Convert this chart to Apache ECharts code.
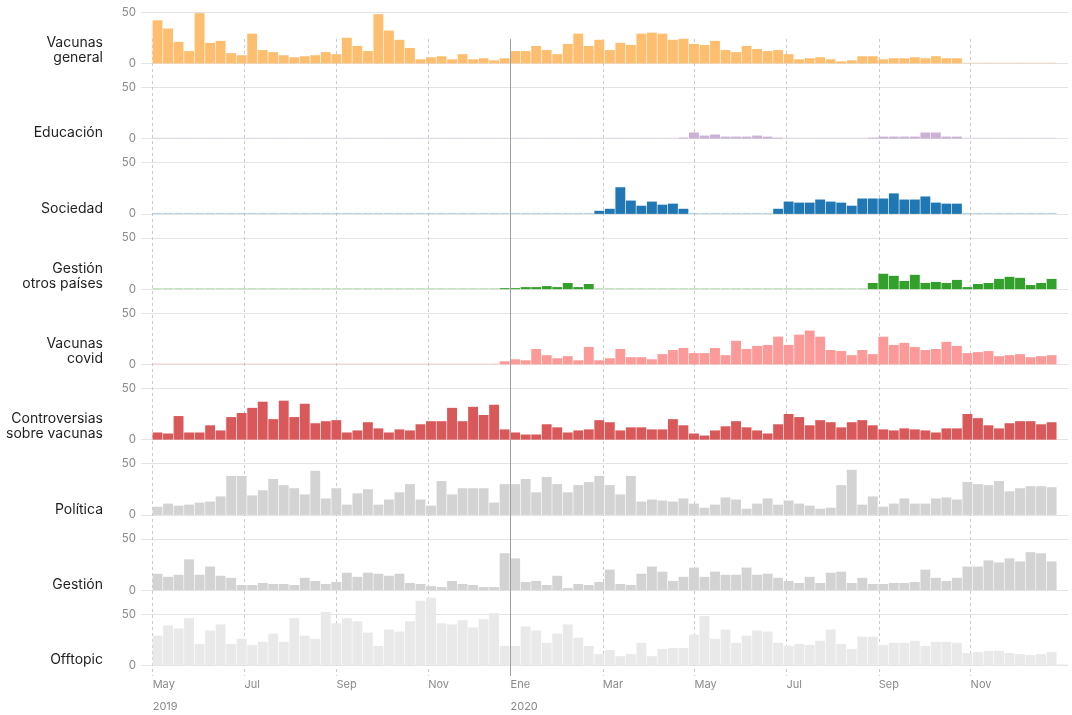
<!DOCTYPE html>
<html>
<head>
<meta charset="utf-8">
<script src="https://cdn.jsdelivr.net/npm/echarts@6/dist/echarts.min.js"></script>
<style>
html,body{margin:0;padding:0;background:#ffffff;}
#chart{width:1072px;height:715px;}
</style>
</head>
<body>
<div id="chart"></div>
<script>
// ---------- DATA ----------
const categories = ['Vacunas\ngeneral', 'Educación', 'Sociedad', 'Gestión\notros países', 'Vacunas\ncovid',
  'Controversias\nsobre vacunas', 'Política', 'Gestión', 'Offtopic'];

// weekly counts, week 0 = first week of May 2019 (null = no bar)
const vacunasGeneral = [42,34,21,12,49,20,22,10,8,29,13,11,8,6,7,8,11,9,25,17,12,48,32,23,15,4,6,7,4,9,4,5,3,5,12,12,17,
  13,9,19,29,17,23,13,20,18,29,30,29,23,24,19,18,22,13,11,17,14,12,13,9,4,5,6,4,2,3,7,7,4,5,5,6,5,7,5,5,
  0,0,0,0,0,0,0,0,0];
const educacion = [0,0,0,0,0,0,0,0,0,0,0,0,0,0,0,0,0,0,0,0,0,0,0,0,0,0,0,0,0,0,0,0,0,0,0,0,0,0,0,0,0,0,0,0,0,0,0,0,0,0,
  1,6,3,4,2,2,2,3,2,1,
  0,0,0,0,0,0,0,0,
  1,2,2,2,2,6,6,2,2,
  0,0,0,0,0,0,0,0,0];
const sociedad = [0,0,0,0,0,0,0,0,0,0,0,0,0,0,0,0,0,0,0,0,0,0,0,0,0,0,0,0,0,0,0,0,0,0,0,0,0,0,0,0,0,0,
  3,5,26,13,8,12,9,10,5,
  0,0,0,0,0,0,0,0,
  5,12,11,11,14,12,11,8,15,15,15,20,14,14,17,11,10,10,
  0,0,0,0,0,0,0,0,0];
const gestionOtrosPaises = [0,0,0,0,0,0,0,0,0,0,0,0,0,0,0,0,0,0,0,0,0,0,0,0,0,0,0,0,0,0,0,0,0,
  1,1,2,2,3,2,6,2,5,
  0,0,0,0,0,0,0,0,0,0,0,0,0,0,0,0,0,0,0,0,0,0,0,0,0,0,
  6,15,13,8,14,6,7,6,9,2,5,6,10,12,11,4,6,10];
const vacunasCovid = [0,0,0,0,0,0,0,0,0,0,0,0,0,0,0,0,0,0,0,0,0,0,0,0,0,0,0,0,0,0,0,0,0,
  3,5,4,15,9,6,8,4,17,4,6,15,7,7,5,10,14,16,11,11,16,9,23,15,18,19,27,19,29,33,27,14,13,9,14,10,
  27,19,21,17,14,15,22,18,11,12,13,8,9,10,7,8,9];
const controversias = [7,6,23,7,7,14,9,22,26,31,37,20,38,22,35,16,18,19,7,9,17,11,7,10,9,15,18,18,31,18,32,24,34,10,7,5,5,
  15,12,7,9,10,19,17,9,12,12,10,10,20,14,6,4,9,13,18,12,9,6,15,25,22,14,19,17,12,17,19,14,10,9,11,10,9,7,11,11,
  25,21,14,11,16,18,18,15,17];
const politica = [8,11,9,10,12,13,18,38,38,19,24,35,29,26,20,43,16,26,10,21,25,10,15,22,30,15,9,33,20,26,26,26,12,30,30,35,22,
  37,30,22,29,32,38,29,20,38,13,15,14,13,16,11,7,10,17,15,6,11,16,10,14,11,9,6,7,29,44,10,18,8,11,16,11,11,16,17,15,
  32,30,29,33,23,26,28,28,27];
const gestion = [16,13,15,30,15,23,14,12,5,5,7,6,6,5,12,9,6,8,17,13,17,16,14,16,7,6,4,3,9,6,5,3,3,36,31,8,9,
  5,14,2,6,5,8,20,6,5,16,23,18,9,13,22,13,18,15,15,22,15,16,12,9,7,13,7,17,18,7,12,6,6,7,7,8,20,12,9,12,
  23,23,29,27,31,28,37,36,28];
const offtopic = [29,39,36,46,21,34,40,21,26,20,23,31,23,46,29,26,52,41,46,43,32,19,35,33,43,63,66,41,40,44,37,45,51,19,19,38,34,
  22,31,40,27,19,11,15,9,11,22,9,16,17,17,30,48,26,35,22,29,34,33,22,19,21,20,24,35,21,16,28,28,20,22,22,24,19,23,23,22,
  12,13,14,14,12,11,10,11,13,1];

const seriesValues = [vacunasGeneral, educacion, sociedad, gestionOtrosPaises, vacunasCovid,
  controversias, politica, gestion, offtopic];

// x-axis month ticks, positions in weeks from the first bar
const monthTickWeeks  = [0.04, 8.77, 17.52, 26.23, 34.06, 42.83, 51.56, 60.30, 69.07, 77.80];
const monthTickLabels = ['May\n\n2019', 'Jul', 'Sep', 'Nov', 'Ene\n\n2020', 'Mar', 'May', 'Jul', 'Sep', 'Nov'];
const yearStartWeek = 34.06;
const yTicks = [0, 50];

// ---------- STYLE / LAYOUT ----------
const palette = ['#FDBF6F', '#CAB2D6', '#1F78B4', '#33A02C', '#FB9A99', '#D9595B', '#D3D3D3', '#D3D3D3', '#E9E9E9'];
const FONT = 'Inter, "Noto Sans", sans-serif';
const X_MIN = -1.07, X_MAX = 87.06;
const LEFT = 141, RIGHT = 4;
const FIRST_ZERO = 63.4, STEP = 75.25, PANEL_H = 51.3;
const NAME_RIGHT_EDGE = 103, NAME_LH = 15;

const grids = [{ left: LEFT, right: RIGHT, top: 39, bottom: 39 }];
const xAxes = [
  {
    gridIndex: 0, type: 'value', min: X_MIN, max: X_MAX, position: 'bottom',
    axisLine: { show: false },
    axisTick: { show: false, customValues: monthTickWeeks.filter(v => v !== yearStartWeek) },
    axisLabel: {
      customValues: monthTickWeeks,
      formatter: v => { const k = monthTickWeeks.findIndex(p => Math.abs(p - v) < 1e-6); return k >= 0 ? monthTickLabels[k] : ''; },
      align: 'left', color: '#8a8a8a', fontSize: 11, lineHeight: 11, margin: 3, fontFamily: FONT
    },
    splitLine: { show: true, lineStyle: { type: [3, 3], color: '#c9c9c9', width: 1 } }
  },
  {
    gridIndex: 0, type: 'value', min: X_MIN, max: X_MAX, position: 'top', z: 5,
    axisLine: { show: false }, axisLabel: { show: false },
    axisTick: { show: false, customValues: [yearStartWeek] },
    splitLine: { show: true, lineStyle: { color: '#a0a0a0', width: 1 } }
  }
];
const yAxes = [{ gridIndex: 0, type: 'value', min: 0, max: 1, show: false }];
const series = [];
const graphics = [];

categories.forEach((name, i) => {
  const zero = FIRST_ZERO + STEP * i;
  grids.push({ left: LEFT, right: RIGHT, top: zero - PANEL_H, height: PANEL_H });
  xAxes.push({ gridIndex: i + 1, type: 'value', min: X_MIN, max: X_MAX, show: false });
  yAxes.push({
    gridIndex: i + 1, type: 'value', min: yTicks[0], max: yTicks[1], interval: yTicks[1] - yTicks[0],
    axisLine: { show: false }, axisTick: { show: false },
    axisLabel: { color: '#8a8a8a', fontSize: 11.5, margin: 5, fontFamily: FONT },
    splitLine: { lineStyle: { color: '#e4e4e4', width: 1 } }
  });
  graphics.push({
    type: 'text', x: NAME_RIGHT_EDGE, y: zero + 2, silent: true,
    style: { text: name, align: 'right', verticalAlign: 'bottom', lineHeight: NAME_LH,
      fontSize: 14, fontFamily: FONT, fill: '#1f1f1f' }
  });
  const data = [];
  seriesValues[i].forEach((v, w) => {
    if (v === null) return;
    if (v === 0) data.push({ value: [w + 0.5, 0], itemStyle: { opacity: 0.35 } });
    else data.push([w + 0.5, v]);
  });
  series.push({
    type: 'bar', name: name, xAxisIndex: i + 2, yAxisIndex: i + 1, data: data,
    barWidth: '94%', barMinHeight: 1, clip: false, silent: true,
    itemStyle: { color: palette[i] }
  });
});

const chart = echarts.init(document.getElementById('chart'), null, { renderer: 'canvas' });
chart.setOption({
  animation: false,
  backgroundColor: '#ffffff',
  grid: grids, xAxis: xAxes, yAxis: yAxes, series: series,
  graphic: graphics
});
</script>
</body>
</html>
